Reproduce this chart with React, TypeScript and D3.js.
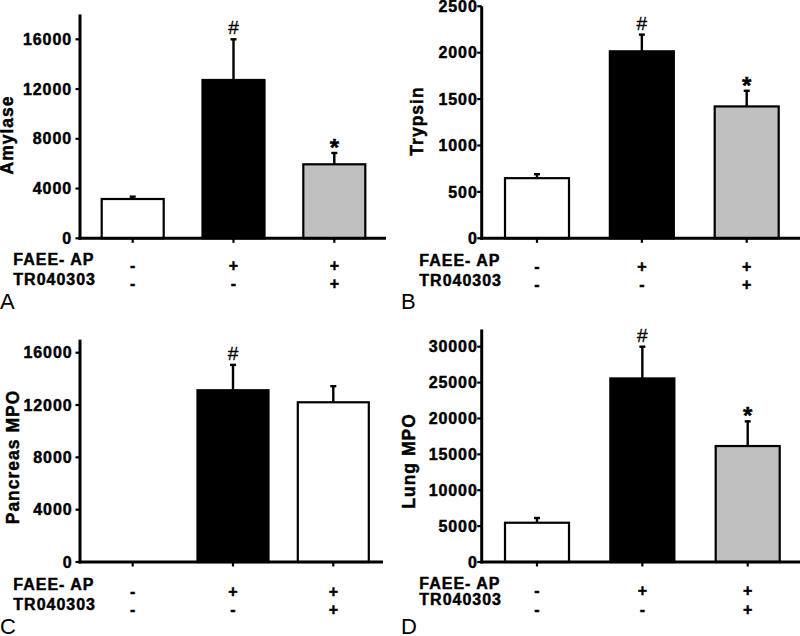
import React from "react";
import * as d3 from "d3";

const groups = ["Control", "FAEE-AP", "FAEE-AP + TR040303"];
const faeeRow = ["-", "+", "+"];
const trRow = ["-", "-", "+"];

const amylaseMean = [3160, 12730, 5950];
const amylaseSem = [190, 3270, 910];
const amylaseTicks = [0, 4000, 8000, 12000, 16000];
const amylaseSig = ["", "#", "*"];

const trypsinMean = [648, 2015, 1421];
const trypsinSem = [43, 180, 169];
const trypsinTicks = [0, 500, 1000, 1500, 2000, 2500];
const trypsinSig = ["", "#", "*"];

const pancreasMean = [0, 13130, 12210];
const pancreasSem = [0, 1940, 1230];
const pancreasTicks = [0, 4000, 8000, 12000, 16000];
const pancreasSig = ["", "#", ""];

const lungMean = [5470, 25580, 16160];
const lungSem = [660, 4420, 3440];
const lungTicks = [0, 5000, 10000, 15000, 20000, 25000, 30000];
const lungSig = ["", "#", "*"];

const fillsGray = ["#ffffff", "#000000", "#c0c0c0"];
const fillsWhite = ["#ffffff", "#000000", "#ffffff"];

const FONT = "'Liberation Sans', Arial, Helvetica, sans-serif";

const panels = [
  {
    letter: "A", title: "Amylase", mean: amylaseMean, sem: amylaseSem, ticks: amylaseTicks, sig: amylaseSig, fills: fillsGray,
    yMax: 18000, refVal: 16000,
    layout: { axisX: 80, baseY: 238.3, refY: 39.3, c0: 132.7, c2: 334.3, barW: 62, xEnd: 386, tickGap: 9,
      titleX: 12.5, titleY: 135, row1: 265, row2: 285, sym1: 270.5, sym2: 289, labelX: 13.3, letterX: 0, letterY: 309 },
  },
  {
    letter: "B", title: "Trypsin", mean: trypsinMean, sem: trypsinSem, ticks: trypsinTicks, sig: trypsinSig, fills: fillsGray,
    yMax: 2500, refVal: 2000,
    layout: { axisX: 481.7, baseY: 238.3, refY: 52.7, c0: 537, c2: 746.7, barW: 64, xEnd: 800, tickGap: 5,
      titleX: 423, titleY: 121, row1: 266, row2: 286, sym1: 271.5, sym2: 290, labelX: 419.3, letterX: 401, letterY: 309 },
  },
  {
    letter: "C", title: "Pancreas MPO", mean: pancreasMean, sem: pancreasSem, ticks: pancreasTicks, sig: pancreasSig, fills: fillsWhite,
    yMax: 17000, refVal: 16000,
    layout: { axisX: 80, baseY: 562, refY: 352.7, c0: 132.7, c2: 333.3, barW: 71, xEnd: 383, tickGap: 8.5,
      titleX: 18.5, titleY: 457, row1: 590, row2: 610, sym1: 596.5, sym2: 615, labelX: 13.3, letterX: 0, letterY: 634 },
  },
  {
    letter: "D", title: "Lung MPO", mean: lungMean, sem: lungSem, ticks: lungTicks, sig: lungSig, fills: fillsGray,
    yMax: 32400, refVal: 30000,
    layout: { axisX: 481.7, baseY: 562, refY: 346.7, c0: 537, c2: 747.7, barW: 64, xEnd: 800, tickGap: 5,
      titleX: 415, titleY: 461, row1: 589, row2: 604.5, sym1: 596, sym2: 615, labelX: 419.3, letterX: 401, letterY: 634 },
  },
];

function Panel({ p }: { p: any }) {
  const L = p.layout;
  const y = d3.scaleLinear().domain([0, p.refVal]).range([L.baseY, L.refY]);
  const x = d3.scalePoint<string>().domain(groups).range([L.c0, L.c2]);
  const topY = y(p.yMax);
  const bold = { fontFamily: FONT, fontWeight: 700 as const, stroke: "#000", strokeWidth: 0.45 };
  return (
    <g>
      {groups.map((g, i) => {
        const cx = x(g)!;
        const v = p.mean[i];
        if (v <= 0) return null;
        const yt = y(v);
        const ye = y(v + p.sem[i]);
        return (
          <g key={g}>
            {p.sem[i] > 0 && (
              <g stroke="#000" strokeWidth={2.4}>
                <line x1={cx} x2={cx} y1={yt} y2={ye} />
                <line x1={cx - 3} x2={cx + 3} y1={ye} y2={ye} />
              </g>
            )}
            <rect x={cx - L.barW / 2} y={yt} width={L.barW} height={L.baseY - yt}
              fill={p.fills[i]} stroke="#000" strokeWidth={2.2} />
            {p.sig[i] === "#" && (
              <text x={cx} y={ye - 5} textAnchor="middle" fontFamily={FONT} fontSize={19} stroke="#000" strokeWidth={0.3}>#</text>
            )}
            {p.sig[i] === "*" && (
              <text x={cx} y={ye + 3} textAnchor="middle" {...bold} fontSize={24}>*</text>
            )}
          </g>
        );
      })}
      <line x1={L.axisX} x2={L.axisX} y1={topY} y2={L.baseY + 1.4} stroke="#000" strokeWidth={3} />
      {p.ticks.map((t: number) => (
        <g key={t}>
          <line x1={L.axisX - 4.5} x2={L.axisX} y1={y(t)} y2={y(t)} stroke="#000" strokeWidth={2.2} />
          <text x={L.axisX - L.tickGap + 1} y={y(t) + 5.6} textAnchor="end" {...bold} fontSize={16} letterSpacing={0.9}>
            {t}
          </text>
        </g>
      ))}
      <line x1={L.axisX - 1.5} x2={L.xEnd} y1={L.baseY} y2={L.baseY} stroke="#000" strokeWidth={3} />
      {groups.map((g) => (
        <line key={g} x1={x(g)!} x2={x(g)!} y1={L.baseY} y2={L.baseY + 4.5} stroke="#000" strokeWidth={2.2} />
      ))}
      <text transform={`translate(${L.titleX},${L.titleY}) rotate(-90)`} textAnchor="middle" {...bold} fontSize={17.5} letterSpacing={1}>
        {p.title}
      </text>
      <text x={L.labelX} y={L.row1} {...bold} fontSize={16} letterSpacing={1}>FAEE- AP</text>
      <text x={L.labelX} y={L.row2} {...bold} fontSize={16} letterSpacing={1}>TR040303</text>
      {groups.map((g, i) => (
        <g key={g}>
          <text x={x(g)!} y={L.sym1} textAnchor="middle" {...bold} fontSize={16}>{faeeRow[i]}</text>
          <text x={x(g)!} y={L.sym2} textAnchor="middle" {...bold} fontSize={16}>{trRow[i]}</text>
        </g>
      ))}
      <text x={L.letterX} y={L.letterY} fontFamily={FONT} fontSize={22}>{p.letter}</text>
    </g>
  );
}

export default function App() {
  return (
    <svg width={800} height={636} viewBox="0 0 800 636"
      style={{ position: "absolute", left: 0, top: 0, background: "#fff", display: "block" }}>
      <rect x={0} y={0} width={800} height={636} fill="#fff" />
      {panels.map((p) => (
        <Panel key={p.letter} p={p} />
      ))}
    </svg>
  );
}
